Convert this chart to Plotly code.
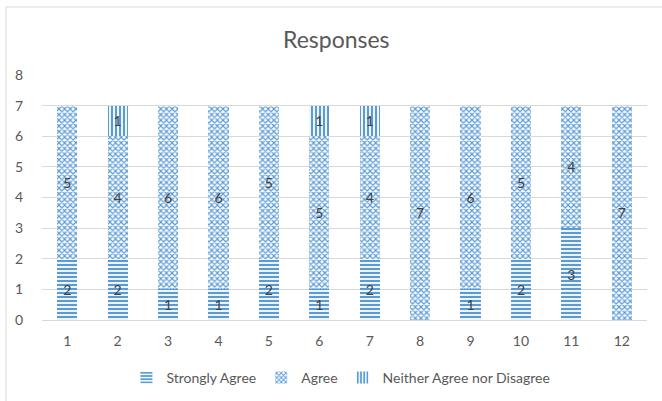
import plotly.graph_objects as go

categories = [str(i) for i in range(1, 13)]
strongly_agree = [2, 2, 1, 1, 2, 1, 2, 0, 1, 2, 3, 0]
agree = [5, 4, 6, 6, 5, 5, 4, 7, 6, 5, 4, 7]
neither = [0, 1, 0, 0, 0, 1, 1, 0, 0, 0, 0, 0]

BLUE = "#5B9BD5"
FONT = "Lato, 'Open Sans', sans-serif"

def labels(vals):
    return [str(v) if v else "" for v in vals]

fig = go.Figure()
series = [
    ("Strongly Agree", strongly_agree, "-", 4, 0.55),
    ("Agree", agree, "x", 4, 0.5),
    ("Neither Agree nor Disagree", neither, "|", 4, 0.55),
]
for name, vals, shape, size, sol in series:
    fig.add_trace(go.Bar(
        name=name, x=categories, y=vals,
        text=labels(vals), textposition="inside", insidetextanchor="middle",
        textfont=dict(color="#404040", size=14, family=FONT),
        marker=dict(color="white", line=dict(width=0),
                    pattern=dict(shape=shape, fgcolor=BLUE, bgcolor="white", fgopacity=1,
                                 size=size, solidity=sol, fillmode="overlay")),
    ))

fig.update_layout(
    barmode="stack", bargap=0.6,
    width=662, height=401,
    paper_bgcolor="white", plot_bgcolor="white",
    margin=dict(l=42, r=15, t=75, b=81, autoexpand=False),
    font=dict(family=FONT, color="#595959", size=14),
    title=dict(text="Responses", x=0.508, xanchor="center", y=1 - 40 / 401, yanchor="middle",
               font=dict(size=23, color="#595959", family=FONT)),
    xaxis=dict(showgrid=False, showline=True, linecolor="#D9D9D9", linewidth=1,
               ticks="", ticklabelstandoff=8, tickfont=dict(size=14, color="#595959")),
    yaxis=dict(range=[0, 8], dtick=1, showgrid=True, gridcolor="#D9D9D9", gridwidth=1,
               zeroline=False, ticks="", ticklabelstandoff=18,
               tickfont=dict(size=14, color="#595959")),
    legend=dict(orientation="h", x=0.515, xanchor="center", xref="container",
                y=1 - 378 / 401, yanchor="middle", yref="container",
                font=dict(size=14, color="#595959"), itemwidth=30,
                traceorder="normal"),
    showlegend=True,
    shapes=[dict(type="rect", xref="paper", yref="paper",
                 x0=-36 / 605, x1=1.05, y0=-0.5, y1=1 + 68 / 245,
                 line=dict(color="#D9D9D9", width=1), fillcolor="rgba(0,0,0,0)", layer="below")],
)

fig.write_html("out.html")
